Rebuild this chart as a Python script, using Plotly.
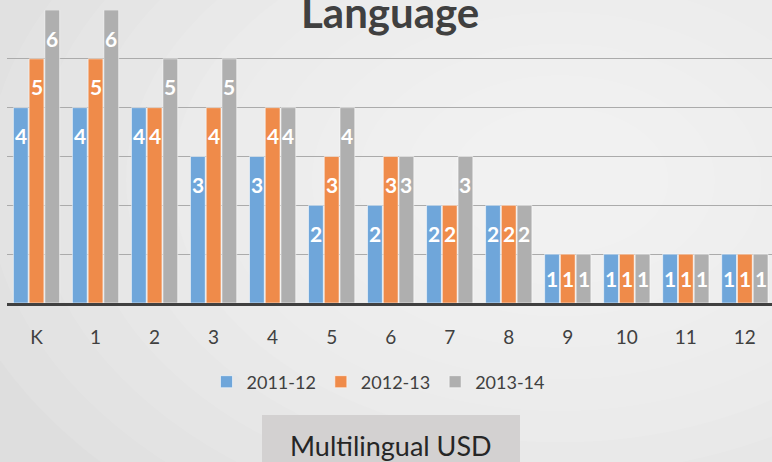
import plotly.graph_objects as go

grades = ["K", "1", "2", "3", "4", "5", "6", "7", "8", "9", "10", "11", "12"]
series_names = ["2011-12", "2012-13", "2013-14"]
v_2011 = [4, 4, 4, 3, 3, 2, 2, 2, 2, 1, 1, 1, 1]
v_2012 = [5, 5, 4, 4, 4, 3, 3, 2, 2, 1, 1, 1, 1]
v_2013 = [6, 6, 5, 5, 4, 4, 3, 3, 2, 1, 1, 1, 1]
colors = ["#6fa6da", "#ef8b4a", "#afafaf"]

W, H = 772, 462
ML, MR, MT, MB = 7, 0, 10, 159
PW = W - ML - MR
PH = H - MT - MB
X_RANGE = [-0.5, 12.46]
BARGAP = 0.2
CAT_PX = PW / (X_RANGE[1] - X_RANGE[0])
SLOT_PX = CAT_PX * (1 - BARGAP) / 3
UNIT_PX = PH / 6.0

def px_x(px):
    return (px - ML) / PW

def px_y(py):
    return (H - MB - py) / PH

fig = go.Figure()
annotations = []
for k, (name, vals, col) in enumerate(zip(series_names, [v_2011, v_2012, v_2013], colors)):
    fig.add_trace(go.Bar(
        x=grades, y=vals, name=name,
        marker=dict(color=col, line=dict(color="rgba(255,255,255,0.55)", width=1)),
        hoverinfo="x+y+name",
    ))
    for g, v in zip(grades, vals):
        drop = min(28.0 / UNIT_PX, v / 2.0)
        annotations.append(dict(
            text="<b>%d</b>" % v, x=g, y=v - drop, xref="x", yref="y",
            xanchor="center", yanchor="middle", showarrow=False,
            xshift=(k - 1) * SLOT_PX,
            font=dict(family="Lato", size=21, color="white"),
        ))

# soft background gradient (approximation)
shapes = []
for i in range(12):
    r = 1.0 - i * 0.075
    shapes.append(dict(
        type="circle", xref="paper", yref="paper", layer="below",
        x0=px_x(560 - 620 * r), x1=px_x(560 + 620 * r),
        y0=px_y(180 + 420 * r), y1=px_y(180 - 420 * r),
        fillcolor="white", opacity=0.09, line=dict(width=0),
    ))
# caption box
shapes.append(dict(
    type="rect", xref="paper", yref="paper",
    x0=px_x(262), x1=px_x(520), y0=px_y(475), y1=px_y(415),
    fillcolor="#d3d1d1", line=dict(width=0), layer="above",
))

annotations += [
    dict(text="<b>Language</b>", xref="paper", yref="paper", x=px_x(390), y=px_y(12),
         xanchor="center", yanchor="middle", showarrow=False,
         font=dict(family="Lato", size=42, color="#404040")),
    dict(text="Multilingual USD", xref="paper", yref="paper", x=px_x(391), y=px_y(445),
         xanchor="center", yanchor="middle", showarrow=False,
         font=dict(family="Lato", size=27, color="#262626")),
]

fig.update_layout(
    width=W, height=H,
    margin=dict(l=ML, r=MR, t=MT, b=MB),
    paper_bgcolor="#dedede", plot_bgcolor="rgba(0,0,0,0)",
    barmode="group", bargap=BARGAP, bargroupgap=0.06,
    font=dict(family="Lato", color="#404040"),
    showlegend=True,
    legend=dict(orientation="h", x=px_x(378), xanchor="center", y=px_y(382), yanchor="middle",
                font=dict(size=18, color="#404040"), bgcolor="rgba(0,0,0,0)",
                traceorder="normal"),
    shapes=shapes,
    annotations=annotations,
)
fig.update_xaxes(
    type="category", range=X_RANGE,
    showline=True, linecolor="#404040", linewidth=3,
    ticks="", tickfont=dict(size=19, color="#404040"), ticklabelstandoff=15,
    showgrid=False, fixedrange=True,
)
fig.update_yaxes(
    range=[0, 6], dtick=1, showticklabels=False,
    showgrid=True, gridcolor="#ababab", gridwidth=1,
    zeroline=False, showline=False, fixedrange=True,
)

fig.write_html("out.html", config={"displayModeBar": False},
               post_script="document.body.style.margin='0';document.body.style.overflow='hidden';")
